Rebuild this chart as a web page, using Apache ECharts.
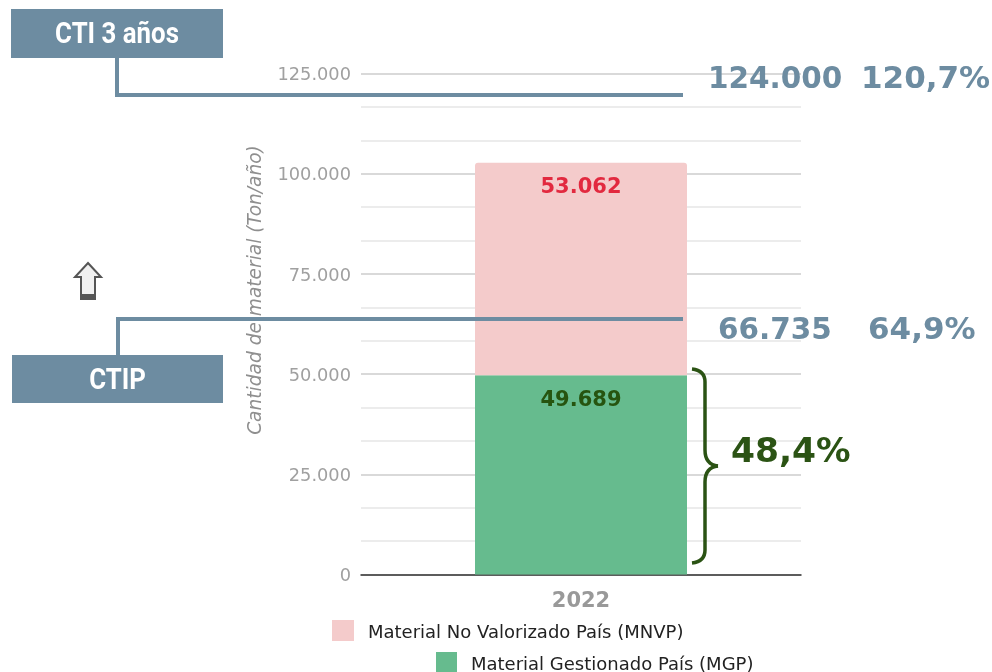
<!DOCTYPE html>
<html><head><meta charset="utf-8">
<script src="https://cdn.jsdelivr.net/npm/echarts@6/dist/echarts.min.js"></script>
<style>html,body{margin:0;padding:0;background:#fff}#c{width:992px;height:672px}</style>
</head><body><div id="c"></div>
<script>
const categories = ['2022'];
const mgpValues = [49689];
const mnvpValues = [53062];
const seriesNames = ['Material Gestionado País (MGP)', 'Material No Valorizado País (MNVP)'];
const axisTitle = 'Cantidad de material (Ton/año)';
const ctiLabel = 'CTI 3 años', ctipLabel = 'CTIP';
const ctiValueText = '124.000', ctiPctText = '120,7%';
const ctipValueText = '66.735', ctipPctText = '64,9%';
const mgpPctText = '48,4%';

const fmt = v => String(v).replace(/\B(?=(\d{3})+$)/g, '.');
const BLUE = '#6d8ca1', DGREEN = '#2b5314', FONT = '"DejaVu Sans"';
const chart = echarts.init(document.getElementById('c'), null, {renderer:'canvas'});
const bigText = (x, y, text, fill, size) => ({type:'text', z:50, x, y,
  style:{text, fill, font:`bold ${size}px ${FONT}`, textVerticalAlign:'middle'}});
const box = (x, y, w, h, text) => ([
  {type:'rect', z:50, shape:{x, y, width:w, height:h}, style:{fill:BLUE}},
  {type:'text', z:51, x:x+w/2, y:y+h/2+2, scaleX:0.86, style:{text, fill:'#fff', font:'bold 30px Roboto', textAlign:'center', textVerticalAlign:'middle'}}
]);
const curve = (x1,y1,cpx1,cpy1,cpx2,cpy2,x2,y2) => ({type:'bezierCurve', z:49,
  shape:{x1,y1,cpx1,cpy1,cpx2,cpy2,x2,y2}, style:{stroke:DGREEN, lineWidth:3.5, fill:null}});
const seg = (x1,y1,x2,y2) => ({type:'line', z:49, shape:{x1,y1,x2,y2}, style:{stroke:DGREEN, lineWidth:3.5}});
const legendText = {fontFamily:FONT, fontSize:18, color:'#222', padding:[0,0,0,9],
  rich:{a:{fontFamily:FONT, fontSize:18, color:'#222', padding:[5,0,0,0]}}};
chart.setOption({
  animation:false,
  backgroundColor:'#fff',
  grid:{left:361, right:191, top:73.5, bottom:97.5, containLabel:false},
  legend:[
    {data:[seriesNames[1]], left:327, top:615, itemWidth:22, itemHeight:21, itemGap:10, icon:'rect', selectedMode:false,
     formatter:'{a|{name}}', textStyle:legendText},
    {data:[seriesNames[0]], left:431, top:647, itemWidth:21, itemHeight:21, itemGap:10, icon:'rect', selectedMode:false,
     formatter:'{a|{name}}', textStyle:legendText}
  ],
  xAxis:{type:'category', data:categories,
    axisLine:{lineStyle:{color:'#333', width:1.5}}, axisTick:{show:false},
    axisLabel:{fontFamily:FONT, fontWeight:'bold', fontSize:21, color:'#999', margin:17}},
  yAxis:{type:'value', min:0, max:125000, interval:25000,
    name:axisTitle, nameLocation:'middle', nameGap:95,
    nameTextStyle:{fontFamily:FONT, fontStyle:'italic', fontSize:18.6, color:'#8f8f8f', padding:[0,0,0,68]},
    axisLine:{show:false}, axisTick:{show:false},
    axisLabel:{margin:10, formatter:v=>`{a|${fmt(v)}}`,
      rich:{a:{fontFamily:FONT, fontSize:17.8, color:'#a0a0a0', padding:[4,0,0,0]}}},
    splitLine:{show:true, lineStyle:{color:'#cccccc', width:1.5}},
    minorTick:{show:false, splitNumber:3},
    minorSplitLine:{show:true, lineStyle:{color:'#e6e6e6', width:1.5}}},
  series:[
    {name:seriesNames[0], type:'bar', stack:'t', data:mgpValues, barWidth:212,
     itemStyle:{color:'#66bb8e'},
     label:{show:true, position:'insideTop', distance:14.5, formatter:p=>fmt(p.value), fontFamily:FONT, fontWeight:'bold', fontSize:21, color:'#26540f'}},
    {name:seriesNames[1], type:'bar', stack:'t', data:mnvpValues, barWidth:212,
     itemStyle:{color:'#f4cbcb', borderRadius:[3,3,0,0]},
     label:{show:true, position:'insideTop', distance:14.5, formatter:p=>fmt(p.value), fontFamily:FONT, fontWeight:'bold', fontSize:21, color:'#e2293f'}}
  ],
  graphic:[
    ...box(11, 9, 212, 49, ctiLabel),
    ...box(12, 355, 211, 48, ctipLabel),
    {type:'polyline', z:49, shape:{points:[[117,58],[117,95],[683,95]]}, style:{stroke:BLUE, lineWidth:4, fill:null}},
    {type:'polyline', z:49, shape:{points:[[118,355],[118,319],[683,319]]}, style:{stroke:BLUE, lineWidth:4, fill:null}},
    bigText(708, 80, ctiValueText, BLUE, 29.5),
    bigText(861, 80, ctiPctText, BLUE, 31),
    bigText(718, 331, ctipValueText, BLUE, 29.5),
    bigText(868, 331, ctipPctText, BLUE, 31),
    bigText(731, 453, mgpPctText, DGREEN, 34.5),
    curve(692,369, 701,370, 705,374, 705,382),
    seg(705,382,705,450),
    curve(705,450, 705,460, 709,465, 718,466),
    curve(718,466, 709,467, 705,472, 705,482),
    seg(705,482,705,550),
    curve(705,550, 705,558, 701,562, 692,563),
    {type:'polygon', z:49, shape:{points:[[88,263],[101,277],[95,277],[95,299],[81,299],[81,277],[75,277]]},
      style:{stroke:'#555', lineWidth:2, fill:'#f0f0f0'}},
    {type:'rect', z:50, shape:{x:80, y:294, width:15, height:6}, style:{fill:'#555'}}
  ]
});
</script></body></html>
